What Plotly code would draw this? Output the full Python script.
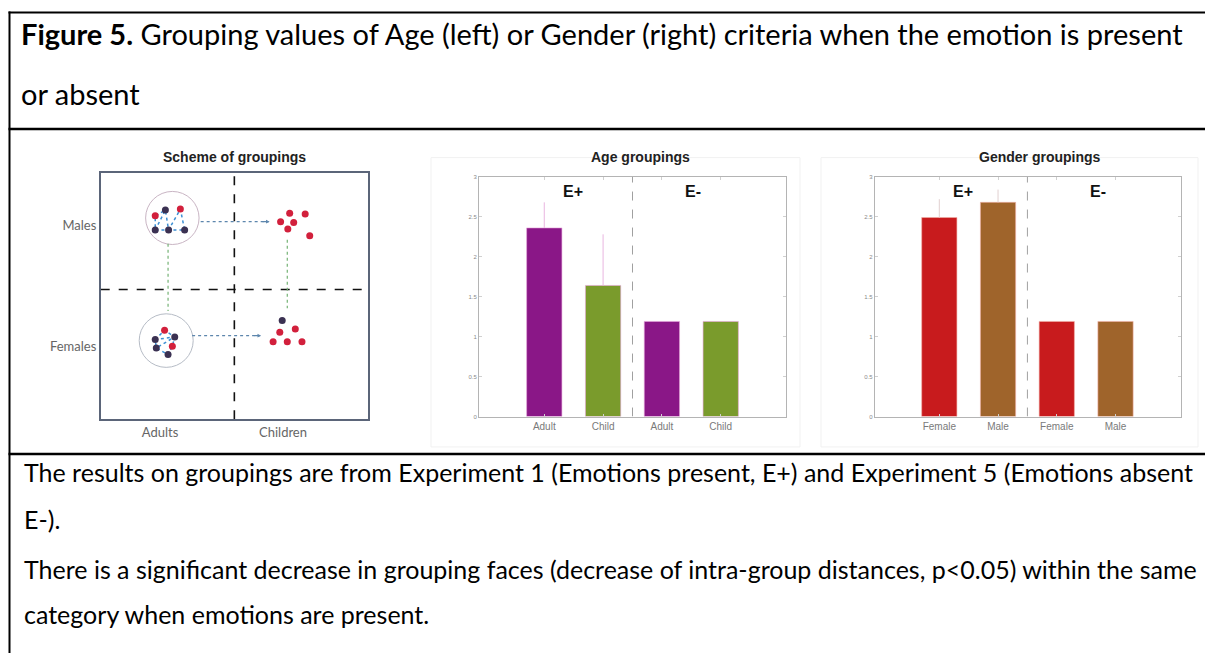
import plotly.graph_objects as go

W, H = 1213, 653

def fx(p):
    return p / W

def fy(p):
    return 1 - p / H

# ---------------- data ----------------
age_categories = ["Adult", "Child", "Adult", "Child"]
age_values = [2.36, 1.64, 1.19, 1.19]
age_err_plus = [0.32, 0.64, 0.0, 0.0]
age_colors = ["#8a1787", "#7a9b2c", "#8a1787", "#7a9b2c"]

gender_categories = ["Female", "Male", "Female", "Male"]
gender_values = [2.49, 2.68, 1.19, 1.19]
gender_err_plus = [0.23, 0.16, 0.0, 0.0]
gender_colors = ["#c81b1d", "#9f642b", "#c81b1d", "#9f642b"]

bar_positions = [1, 2, 3, 4]
y_ticks = [0, 0.5, 1, 1.5, 2, 2.5, 3]
y_tick_labels = ["0", "0.5", "1", "1.5", "2", "2.5", "3"]

# scheme (schematic coordinates, 0..10 on both axes)
scheme_x_labels = ["Adults", "Children"]
scheme_x_pos = [2.22, 6.82]
scheme_y_labels = ["Males", "Females"]
scheme_y_pos = [7.9, 2.98]

male_adult_x = [2.04, 2.42, 2.98, 2.04, 2.54, 3.14]
male_adult_y = [8.28, 8.51, 8.55, 7.70, 7.70, 7.70]
male_adult_c = ["r", "d", "r", "d", "d", "d"]
female_adult_x = [2.39, 2.04, 2.77, 2.08, 2.52, 2.68]
female_adult_y = [3.62, 3.24, 3.35, 2.90, 2.63, 2.97]
female_adult_c = ["r", "d", "d", "d", "d", "r"]
male_child_x = [7.07, 7.65, 6.73, 7.22, 7.00, 7.82]
male_child_y = [8.38, 8.35, 8.04, 8.01, 7.74, 7.47]
female_child_x = [6.79, 6.70, 7.28, 6.45, 6.98, 7.53]
female_child_y = [4.02, 3.54, 3.67, 3.15, 3.15, 3.15]
female_child_c = ["d", "r", "r", "r", "r", "r"]

male_circle = (2.68, 8.19, 1.0, 1.08)
female_circle = (2.45, 3.20, 1.01, 1.09)
split_x = 5.0
split_y = 5.28

dot_color = {"r": "#d2203c", "d": "#3b3152"}

TXT = "Lato"
ARIAL = "Liberation Sans, Arial"

fig = go.Figure()

# ---------------- scheme panel ----------------
def add_dots(xs, ys, cs):
    fig.add_trace(go.Scatter(x=xs, y=ys, mode="markers", xaxis="x", yaxis="y",
                             marker=dict(size=7, color=[dot_color[c] for c in cs]),
                             hoverinfo="skip"))

# blue links inside adult clusters
for xs, ys, order in [(male_adult_x, male_adult_y, [3, 1, 4, 2, 5, 4, 3, 0, 1]),
                      (female_adult_x, female_adult_y, [1, 0, 2, 5, 4, 3, 1, 2, 3])]:
    fig.add_trace(go.Scatter(x=[xs[i] for i in order], y=[ys[i] for i in order],
                             mode="lines", xaxis="x", yaxis="y",
                             line=dict(color="#3c8fd4", width=1.5, dash="dot"),
                             hoverinfo="skip"))

add_dots(male_adult_x, male_adult_y, male_adult_c)
add_dots(female_adult_x, female_adult_y, female_adult_c)
add_dots(male_child_x, male_child_y, ["r"] * 6)
add_dots(female_child_x, female_child_y, female_child_c)

# ---------------- bar charts ----------------
fig.add_trace(go.Bar(x=bar_positions, y=age_values, xaxis="x2", yaxis="y2", width=0.6,
                     marker=dict(color=age_colors, line=dict(color="#e7a6dc", width=0.6)),
                     error_y=dict(type="data", symmetric=False, array=age_err_plus,
                                  arrayminus=[0, 0, 0, 0], color="#e9b5e0",
                                  thickness=1, width=0),
                     hoverinfo="skip"))
fig.add_trace(go.Bar(x=bar_positions, y=gender_values, xaxis="x3", yaxis="y3", width=0.6,
                     marker=dict(color=gender_colors, line=dict(color="#f2b0a8", width=0.6)),
                     error_y=dict(type="data", symmetric=False, array=gender_err_plus,
                                  arrayminus=[0, 0, 0, 0], color="#e2d0d0",
                                  thickness=1, width=0),
                     hoverinfo="skip"))

bar_axis_common = dict(showline=True, mirror="ticks", linecolor="#b4b4b4", linewidth=1,
                       ticks="inside", ticklen=3, tickcolor="#d0d0d0", showgrid=False,
                       zeroline=False, fixedrange=True)

layout = dict(
    width=W, height=H, margin=dict(l=0, r=0, t=0, b=0),
    paper_bgcolor="white", plot_bgcolor="white", showlegend=False,
    xaxis=dict(domain=[fx(92.7), fx(360)], range=[0, 10], showline=True, mirror=True,
               linecolor="#5b6579", linewidth=1.5, tickvals=scheme_x_pos,
               ticktext=scheme_x_labels, ticks="", showgrid=False, zeroline=False,
               tickfont=dict(family=TXT, size=13, color="#666666")),
    yaxis=dict(domain=[fy(412), fy(164)], range=[0, 10], showline=True, mirror=True,
               linecolor="#5b6579", linewidth=1.5, tickvals=scheme_y_pos,
               ticktext=scheme_y_labels, ticks="", showgrid=False, zeroline=False,
               tickfont=dict(family=TXT, size=13, color="#666666")),
    xaxis2=dict(domain=[fx(471), fx(778)], range=[-0.11, 5.11], tickvals=bar_positions,
                ticktext=age_categories, anchor="y2",
                tickfont=dict(family=ARIAL, size=10, color="#7a7a7a"), **bar_axis_common),
    yaxis2=dict(domain=[fy(409.3), fy(167.3)], range=[0, 3], tickvals=y_ticks,
                ticktext=y_tick_labels, anchor="x2",
                tickfont=dict(family=ARIAL, size=6, color="#8a8a8a"), **bar_axis_common),
    xaxis3=dict(domain=[fx(866.7), fx(1172.7)], range=[-0.10, 5.11], tickvals=bar_positions,
                ticktext=gender_categories, anchor="y3",
                tickfont=dict(family=ARIAL, size=10, color="#7a7a7a"), **bar_axis_common),
    yaxis3=dict(domain=[fy(409.3), fy(167.3)], range=[0, 3], tickvals=y_ticks,
                ticktext=y_tick_labels, anchor="x3",
                tickfont=dict(family=ARIAL, size=6, color="#8a8a8a"), **bar_axis_common),
)
fig.update_layout(**layout)

shapes = []
# scheme dashed split lines
shapes.append(dict(type="line", xref="x", yref="y", x0=split_x, x1=split_x, y0=0, y1=10,
                   line=dict(color="#111111", width=1.6, dash="dash")))
shapes.append(dict(type="line", xref="x", yref="y", x0=0, x1=10, y0=split_y, y1=split_y,
                   line=dict(color="#111111", width=1.6, dash="dash")))
# circles
for (cx, cy, rx, ry), col in [(male_circle, "#c9b5c4"), (female_circle, "#b6bcc6")]:
    shapes.append(dict(type="circle", xref="x", yref="y", x0=cx - rx, x1=cx + rx,
                       y0=cy - ry, y1=cy + ry, line=dict(color=col, width=1)))
# green vertical dotted connectors
shapes.append(dict(type="line", xref="x", yref="y", x0=2.52, x1=2.52, y0=7.14, y1=4.40,
                   line=dict(color="#74b274", width=1.2, dash="dot")))
shapes.append(dict(type="line", xref="x", yref="y", x0=6.98, x1=6.98, y0=7.30, y1=4.52,
                   line=dict(color="#74b274", width=1.2, dash="dot")))
# blue horizontal dotted connectors
shapes.append(dict(type="line", xref="x", yref="y", x0=3.74, x1=6.2, y0=8.04, y1=8.04,
                   line=dict(color="#5d86ad", width=1.2, dash="dot")))
shapes.append(dict(type="line", xref="x", yref="y", x0=3.42, x1=5.9, y0=3.40, y1=3.40,
                   line=dict(color="#5d86ad", width=1.2, dash="dot")))

# bar chart separators
for xr, yr in [("x2", "y2"), ("x3", "y3")]:
    shapes.append(dict(type="line", xref=xr, yref=yr, x0=2.5, x1=2.5, y0=0, y1=3,
                       line=dict(color="#a0a0a0", width=1, dash="dash")))

# faint image frames around the charts
for x0, x1 in [(423, 792), (813, 1190)]:
    shapes.append(dict(type="rect", xref="paper", yref="paper", x0=fx(x0), x1=fx(x1),
                       y0=fy(440), y1=fy(148), line=dict(color="#f1f1f1", width=1)))

# table borders
border = dict(color="#000000", width=2)
shapes.append(dict(type="line", xref="paper", yref="paper", x0=fx(1.5), x1=fx(1.5),
                   y0=fy(0.5), y1=0, line=border))
shapes.append(dict(type="line", xref="paper", yref="paper", x0=fx(1210.5), x1=fx(1210.5),
                   y0=fy(0.5), y1=0, line=border))
shapes.append(dict(type="line", xref="paper", yref="paper", x0=fx(0.5), x1=fx(1211.5),
                   y0=fy(1.5), y1=fy(1.5), line=border))
shapes.append(dict(type="line", xref="paper", yref="paper", x0=fx(0.5), x1=fx(1211.5),
                   y0=fy(119), y1=fy(119), line=dict(color="#000000", width=2.5)))
shapes.append(dict(type="line", xref="paper", yref="paper", x0=fx(0.5), x1=fx(1211.5),
                   y0=fy(447), y1=fy(447), line=dict(color="#000000", width=2.5)))
fig.update_layout(shapes=shapes)

ann = []
# arrow heads for blue connectors
ann.append(dict(x=6.32, y=8.04, ax=6.0, ay=8.04, xref="x", yref="y", axref="x", ayref="y",
                showarrow=True, arrowhead=2, arrowsize=0.6, arrowwidth=1.2,
                arrowcolor="#5d86ad", text=""))
ann.append(dict(x=6.0, y=3.40, ax=5.7, ay=3.40, xref="x", yref="y", axref="x", ayref="y",
                showarrow=True, arrowhead=2, arrowsize=0.6, arrowwidth=1.2,
                arrowcolor="#5d86ad", text=""))

# panel titles
for txt, cx in [("Scheme of groupings", 226), ("Age groupings", 632), ("Gender groupings", 1032)]:
    ann.append(dict(x=fx(cx), y=fy(147), xref="paper", yref="paper", text="<b>%s</b>" % txt,
                    showarrow=False, xanchor="center", yanchor="middle",
                    font=dict(family=ARIAL, size=14, color="#222222")))

# E+ / E- labels
for xr, yr, xp, xm in [("x2", "y2", 1.48, 3.53), ("x3", "y3", 1.40, 3.70)]:
    ann.append(dict(x=xp, y=2.82, xref=xr, yref=yr, text="<b>E+</b>", showarrow=False,
                    font=dict(family=ARIAL, size=16, color="#111111")))
    ann.append(dict(x=xm, y=2.82, xref=xr, yref=yr, text="<b>E-</b>", showarrow=False,
                    font=dict(family=ARIAL, size=16, color="#111111")))

# figure title
title_lines = ["<b>Figure 5.</b> Grouping values of Age (left) or Gender (right) criteria when the emotion is present",
               "or absent"]
for t, yy in zip(title_lines, [23, 83]):
    ann.append(dict(x=fx(11), y=fy(yy), xref="paper", yref="paper", text=t,
                    showarrow=False, xanchor="left", yanchor="middle",
                    font=dict(family=TXT, size=29, color="#000000")))

caption_lines = [
    "The results on groupings are from Experiment 1 (Emotions present, E+) and Experiment 5 (Emotions absent",
    "E-).",
    "There is a significant decrease in grouping faces (decrease of intra-group distances, p<0.05) within the same",
    "category when emotions are present.",
]
caption_y = [465, 513, 563, 609]
for t, yy in zip(caption_lines, caption_y):
    ann.append(dict(x=fx(14), y=fy(yy), xref="paper", yref="paper", text=t,
                    showarrow=False, xanchor="left", yanchor="middle",
                    font=dict(family=TXT, size=25, color="#000000")))

fig.update_layout(annotations=ann)

fig.write_html("out.html")
